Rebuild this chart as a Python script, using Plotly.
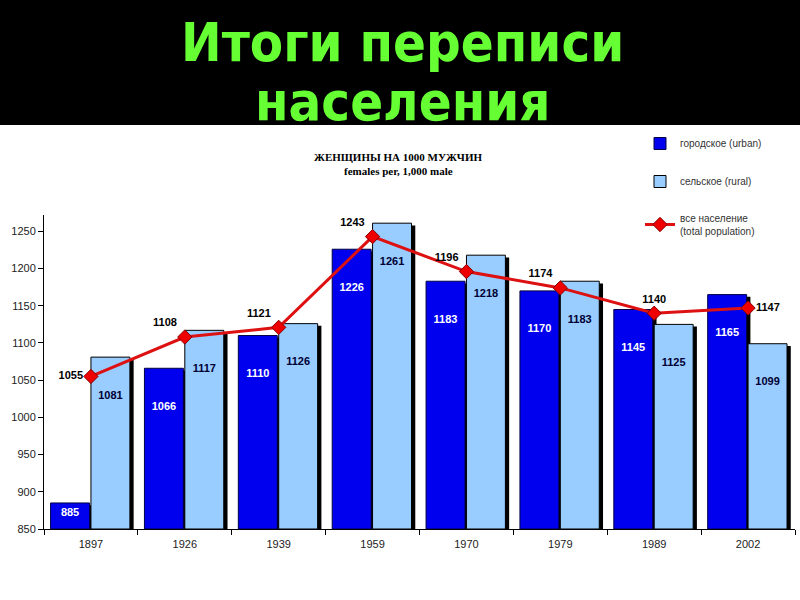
import plotly.graph_objects as go

years = ["1897", "1926", "1939", "1959", "1970", "1979", "1989", "2002"]
urban = [885, 1066, 1110, 1226, 1183, 1170, 1145, 1165]
rural = [1081, 1117, 1126, 1261, 1218, 1183, 1125, 1099]
total = [1055, 1108, 1121, 1243, 1196, 1174, 1140, 1147]
total_pos = ["middle left", "top left", "top left", "top left", "top left",
             "top left", "top center", "middle right"]

W, H = 800, 600
L, R, T, B = 44, 5, 215, 71
PW, PH = W - L - R, H - T - B
BASE = 850
NB = "\u00a0"

def px(x):
    return (x - L) / PW

def py(y):
    return (H - B - y) / PH

def lab(v):
    # push label down from the bar top when there is room
    return (NB + "<br>" + NB + "<br>" + str(v)) if v - BASE > 120 else str(v)

BW = 0.415
fig = go.Figure()
# shadows
fig.add_bar(x=years, y=[v - BASE - 3 for v in urban], base=BASE, offset=-0.43 + 0.04, width=BW,
            marker_color="black", marker_line_width=0, showlegend=False, hoverinfo="skip")
fig.add_bar(x=years, y=[v - BASE - 3 for v in rural], base=BASE, offset=0.0 + 0.04, width=BW,
            marker_color="black", marker_line_width=0, showlegend=False, hoverinfo="skip")

fig.add_bar(x=years, y=[v - BASE for v in urban], base=BASE, offset=-0.43, width=BW,
            name="городское (urban)", legendgroup="a",
            marker=dict(color="#0000EE", line=dict(color="#000044", width=1)),
            text=[lab(v) for v in urban], textposition="inside", insidetextanchor="end",
            textangle=0,
            textfont=dict(family="Liberation Sans", size=11, color="white", weight="bold"))
fig.add_bar(x=years, y=[v - BASE for v in rural], base=BASE, offset=0.0, width=BW,
            name="сельское (rural)", legendgroup="b",
            marker=dict(color="#99CCFF", line=dict(color="#000000", width=1)),
            text=[lab(v) for v in rural], textposition="inside", insidetextanchor="end",
            textangle=0,
            textfont=dict(family="Liberation Sans", size=11, color="#000033", weight="bold"))
fig.add_scatter(x=years, y=total, mode="lines+markers+text", name="все население<br>(total population)",
                legendgroup="c",
                line=dict(color="#DD1111", width=3),
                marker=dict(symbol="diamond", size=11, color="#EE0000", line=dict(color="#880000", width=1)),
                text=[str(v) for v in total], textposition=total_pos,
                textfont=dict(family="Liberation Sans", size=11, color="black", weight="bold"))

fig.update_layout(
    width=W, height=H, barmode="overlay",
    margin=dict(l=L, r=R, t=T, b=B),
    paper_bgcolor="white", plot_bgcolor="white",
    showlegend=True,
    legend=dict(x=px(640), y=py(129), xanchor="left", yanchor="top",
                font=dict(family="Liberation Sans", size=10, color="#333333"),
                tracegroupgap=19, bgcolor="rgba(0,0,0,0)"),
    xaxis=dict(type="category", showline=True, linecolor="black", linewidth=1,
               ticks="outside", ticklen=5, tickcolor="black", tickson="boundaries",
               showgrid=False, tickfont=dict(family="Liberation Sans", size=11, color="#222222"),
               ticklabelstandoff=5, range=[-0.5, 7.5]),
    yaxis=dict(range=[850, 1272], showline=True, linecolor="black", linewidth=1,
               ticks="outside", ticklen=5, tickcolor="black", dtick=50, tick0=850,
               showgrid=False, zeroline=False,
               tickfont=dict(family="Liberation Sans", size=11, color="#222222")),
    shapes=[dict(type="rect", xref="paper", yref="paper", x0=px(-10), x1=px(810),
                 y0=py(125), y1=py(-10), fillcolor="black", line_width=0, layer="below")],
    annotations=[
        dict(text="Итоги переписи", xref="paper", yref="paper", x=px(402), y=py(43),
             xanchor="center", yanchor="middle", showarrow=False,
             font=dict(family="DejaVu Sans Condensed", size=54, color="#66FF33", weight="bold")),
        dict(text="населения", xref="paper", yref="paper", x=px(402), y=py(102),
             xanchor="center", yanchor="middle", showarrow=False,
             font=dict(family="DejaVu Sans Condensed", size=54, color="#66FF33", weight="bold")),
        dict(text="ЖЕНЩИНЫ НА 1000 МУЖЧИН", xref="paper", yref="paper", x=px(398), y=py(157),
             xanchor="center", yanchor="middle", showarrow=False,
             font=dict(family="Liberation Serif", size=11, color="black", weight="bold")),
        dict(text="females per, 1,000 male", xref="paper", yref="paper", x=px(398), y=py(171),
             xanchor="center", yanchor="middle", showarrow=False,
             font=dict(family="Liberation Serif", size=11, color="black", weight="bold")),
    ],
)

fig.write_html("out.html")
